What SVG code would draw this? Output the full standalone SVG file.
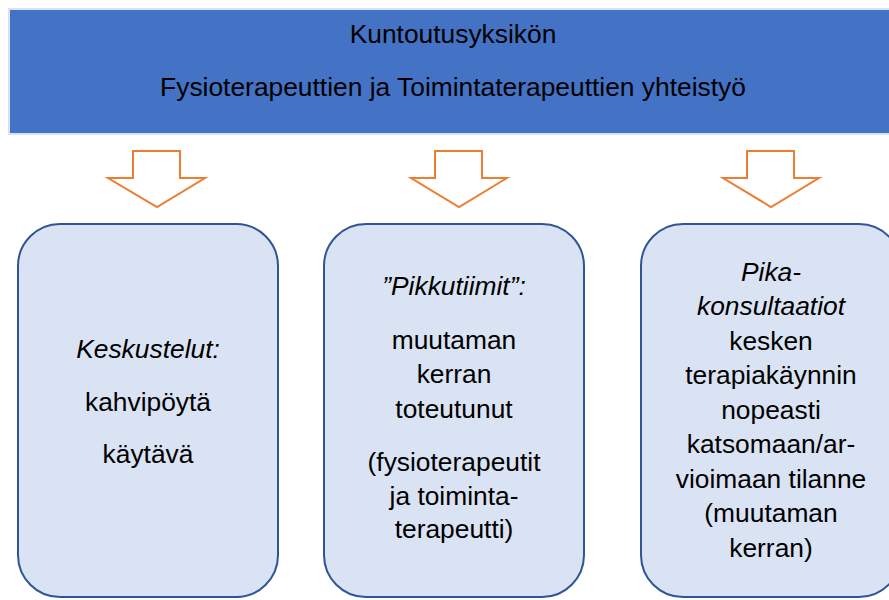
<svg xmlns="http://www.w3.org/2000/svg" width="889" height="600" viewBox="0 0 889 600">
  <style>
    .t { font-family: "Liberation Sans", Arial, sans-serif; font-size: 25px; fill: #000; text-anchor: middle; }
    .i { font-style: italic; }
    .box { fill: #DAE3F3; stroke: #2F5597; stroke-width: 2; }
    .arrow { fill: #FFFFFF; stroke: #ED7D31; stroke-width: 2; stroke-linejoin: miter; }
  </style>
  <rect x="0" y="0" width="889" height="600" fill="#FFFFFF"/>

  <g id="header">
    <rect x="9" y="9" width="890" height="125" fill="#4472C4" stroke="#D9E2F3" stroke-width="2"/>
    <g transform="translate(453,0) scale(1.055,1)">
      <text class="t" x="0" y="43">Kuntoutusyksikön</text>
      <text class="t" x="0" y="96">Fysioterapeuttien ja Toimintaterapeuttien yhteistyö</text>
    </g>
  </g>

  <g id="connectors">
    <polygon class="arrow" points="133,151 180,151 180,178 205,178 157,207 108,178 133,178"/>
    <polygon class="arrow" points="435,151 482,151 482,178 507,178 459,207 411,178 435,178"/>
    <polygon class="arrow" points="747,151 794,151 794,178 819,178 771,207 723,178 747,178"/>
  </g>

  <g id="node-keskustelut">
    <rect class="box" x="18" y="224" width="260" height="373" rx="42" ry="42"/>
    <g transform="translate(148,0) scale(1.055,1)">
      <text class="t i" x="0" y="358">Keskustelut:</text>
      <text class="t" x="0" y="411">kahvipöytä</text>
      <text class="t" x="0" y="463">käytävä</text>
    </g>
  </g>

  <g id="node-pikkutiimit">
    <rect class="box" x="324" y="224" width="260" height="373" rx="42" ry="42"/>
    <g transform="translate(454,0) scale(1.055,1)">
      <text class="t i" x="0" y="295">”Pikkutiimit”:</text>
      <text class="t" x="0" y="349">muutaman</text>
      <text class="t" x="0" y="383">kerran</text>
      <text class="t" x="0" y="418">toteutunut</text>
      <text class="t" x="0" y="471">(fysioterapeutit</text>
      <text class="t" x="0" y="505">ja toiminta-</text>
      <text class="t" x="0" y="538">terapeutti)</text>
    </g>
  </g>

  <g id="node-pikakonsultaatiot">
    <rect class="box" x="641" y="224" width="260" height="373" rx="42" ry="42"/>
    <g transform="translate(771,0) scale(1.055,1)">
      <text class="t i" x="0" y="281">Pika-</text>
      <text class="t i" x="0" y="315.5">konsultaatiot</text>
      <text class="t" x="0" y="350">kesken</text>
      <text class="t" x="0" y="384.5">terapiakäynnin</text>
      <text class="t" x="0" y="419">nopeasti</text>
      <text class="t" x="0" y="453.5">katsomaan/ar-</text>
      <text class="t" x="0" y="488">vioimaan tilanne</text>
      <text class="t" x="0" y="522.5">(muutaman</text>
      <text class="t" x="0" y="557">kerran)</text>
    </g>
  </g>
</svg>
